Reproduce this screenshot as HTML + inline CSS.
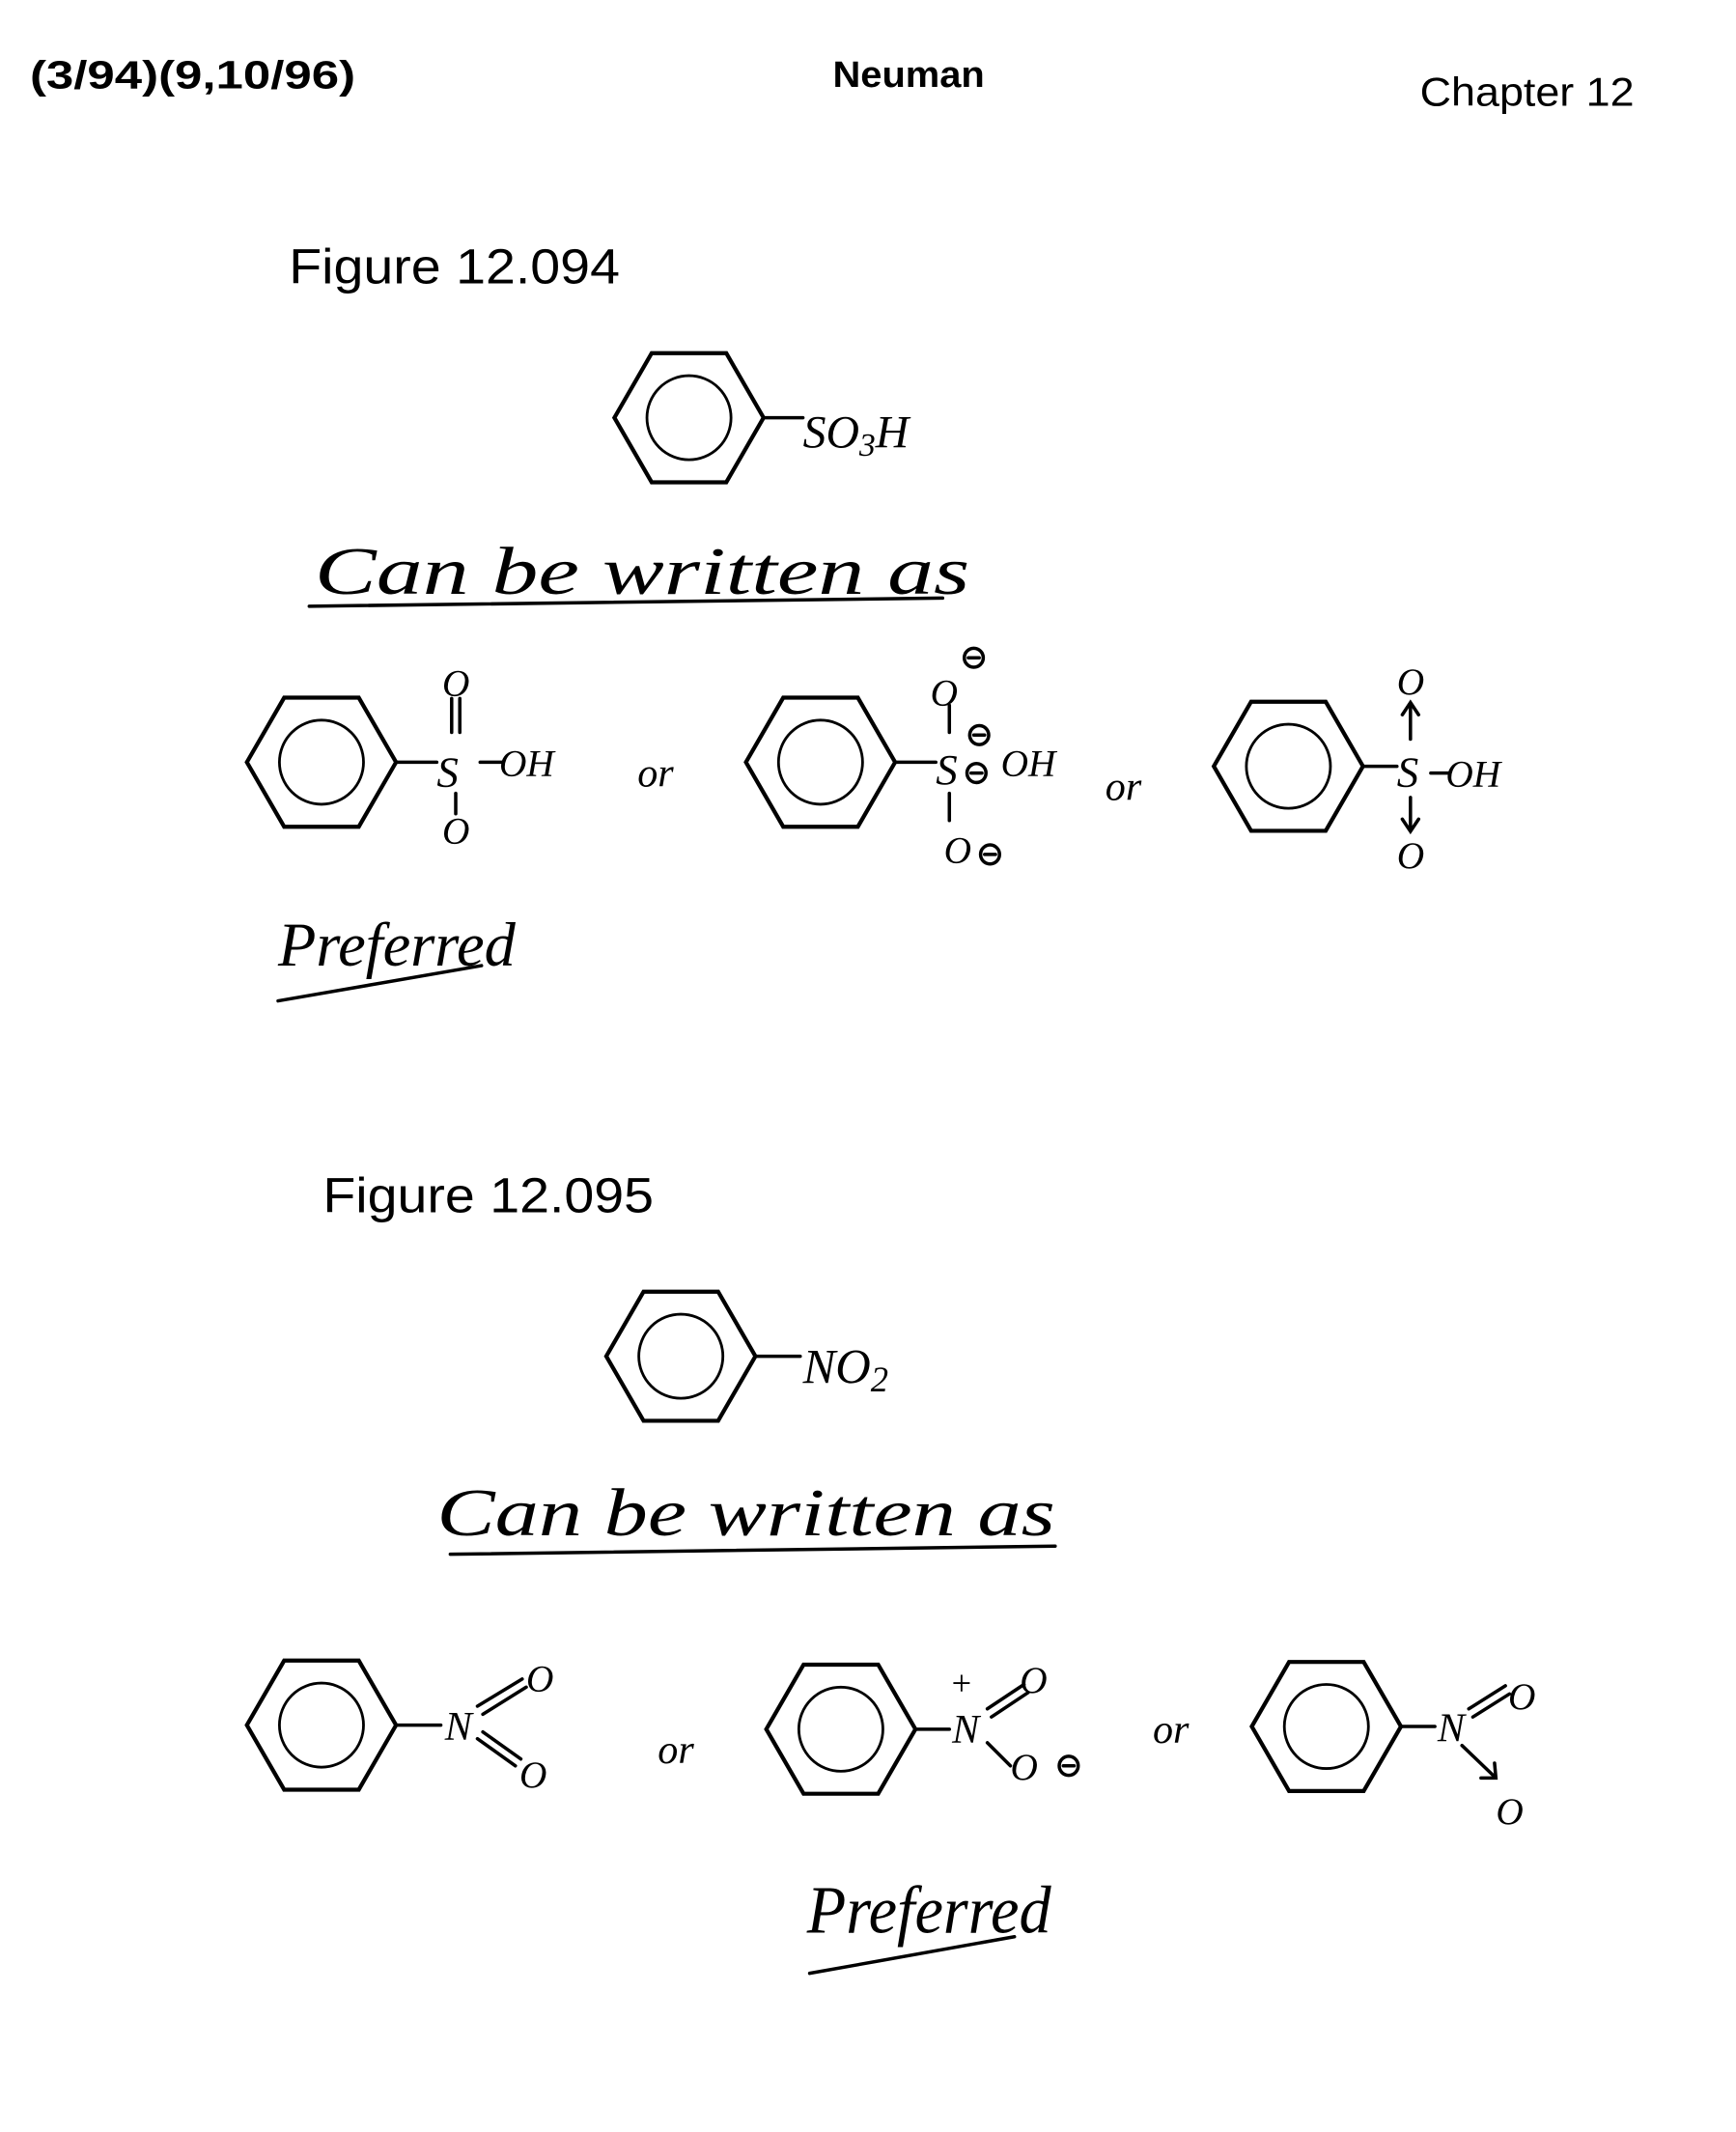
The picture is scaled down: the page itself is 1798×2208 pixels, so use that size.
<!DOCTYPE html>
<html><head><meta charset="utf-8"><style>
html,body{margin:0;padding:0;background:#fff}
svg{display:block}
.h{font-family:"Liberation Sans",sans-serif}
.w{font-family:"Liberation Serif",serif;font-style:italic}
</style></head><body>
<svg width="1798" height="2208" viewBox="0 0 1280 1572" xmlns="http://www.w3.org/2000/svg">
<defs>
<g id="bz"><polygon points="55,0 27.5,47.6 -27.5,47.6 -55,0 -27.5,-47.6 27.5,-47.6" fill="none" stroke="#000" stroke-width="3"/><circle r="31" fill="none" stroke="#000" stroke-width="2"/></g>
<g id="neg"><circle r="7" fill="none" stroke="#000" stroke-width="2.5"/><line x1="-4" y1="0" x2="4" y2="0" stroke="#000" stroke-width="2.5"/></g>
</defs>
<g class="h" fill="#000">
<text x="22" y="65" font-size="29" font-weight="bold" textLength="240" lengthAdjust="spacingAndGlyphs">(3/94)(9,10/96)</text>
<text x="614" y="64" font-size="27" font-weight="bold" textLength="112" lengthAdjust="spacingAndGlyphs">Neuman</text>
<text x="1047" y="78" font-size="30" textLength="158" lengthAdjust="spacingAndGlyphs">Chapter 12</text>
<text x="213" y="209" font-size="36" textLength="244" lengthAdjust="spacingAndGlyphs">Figure 12.094</text>
<text x="238" y="894" font-size="36" textLength="244" lengthAdjust="spacingAndGlyphs">Figure 12.095</text>
</g>
<g stroke="#000" stroke-width="2.5" fill="none" stroke-linecap="round">
<use href="#bz" x="508" y="308"/>
<line x1="563" y1="308" x2="592" y2="308"/>
<use href="#bz" x="237" y="562"/>
<line x1="292" y1="562" x2="322" y2="562"/>
<line x1="333" y1="515" x2="333" y2="540"/><line x1="339" y1="515" x2="339" y2="540"/>
<line x1="336" y1="585" x2="336" y2="600"/>
<line x1="354" y1="562" x2="370" y2="562"/>
<use href="#bz" x="605" y="562"/>
<line x1="660" y1="562" x2="690" y2="562"/>
<line x1="700" y1="520" x2="700" y2="540"/><line x1="700" y1="585" x2="700" y2="605"/>
<use href="#neg" x="718" y="485"/><use href="#neg" x="722" y="542"/><use href="#neg" x="720" y="570"/><use href="#neg" x="730" y="630"/>
<use href="#bz" x="950" y="565"/>
<line x1="1005" y1="565" x2="1030" y2="565"/>
<line x1="1040" y1="520" x2="1040" y2="545"/><polyline points="1034,527 1040,518 1046,527"/>
<line x1="1040" y1="588" x2="1040" y2="612"/><polyline points="1034,604 1040,613 1046,604"/>
<line x1="1055" y1="570" x2="1068" y2="570"/>
<line x1="228" y1="447" x2="695" y2="441"/>
<line x1="205" y1="738" x2="355" y2="712"/>
<use href="#bz" x="502" y="1000"/>
<line x1="557" y1="1000" x2="590" y2="1000"/>
<line x1="332" y1="1146" x2="778" y2="1140"/>
<use href="#bz" x="237" y="1272"/>
<line x1="292" y1="1272" x2="325" y2="1272"/>
<line x1="352" y1="1258" x2="385" y2="1238"/><line x1="356" y1="1264" x2="388" y2="1244"/>
<line x1="352" y1="1282" x2="380" y2="1302"/><line x1="356" y1="1277" x2="384" y2="1297"/>
<use href="#bz" x="620" y="1275"/>
<line x1="675" y1="1275" x2="700" y2="1275"/>
<line x1="728" y1="1260" x2="755" y2="1242"/><line x1="731" y1="1266" x2="758" y2="1248"/>
<line x1="728" y1="1285" x2="745" y2="1302"/>
<use href="#neg" x="788" y="1302"/>
<use href="#bz" x="978" y="1273"/>
<line x1="1033" y1="1273" x2="1058" y2="1273"/>
<line x1="1083" y1="1260" x2="1110" y2="1243"/><line x1="1086" y1="1266" x2="1113" y2="1249"/>
<line x1="1078" y1="1287" x2="1102" y2="1310"/><polyline points="1092,1311 1103,1311 1102,1300"/>
<line x1="597" y1="1455" x2="748" y2="1428"/>
</g>
<g class="w" fill="#000">
<text x="592" y="330" font-size="34">SO<tspan font-size="24" dy="6">3</tspan><tspan dy="-6">H</tspan></text>
<text x="232" y="438" font-size="50" textLength="483" lengthAdjust="spacingAndGlyphs">Can be written as</text>
<text x="326" y="513" font-size="28">O</text>
<text x="322" y="580" font-size="32">S</text>
<text x="326" y="622" font-size="28">O</text>
<text x="368" y="572" font-size="28">OH</text>
<text x="470" y="580" font-size="30">or</text>
<text x="686" y="520" font-size="28">O</text>
<text x="690" y="578" font-size="32">S</text>
<text x="738" y="572" font-size="28">OH</text>
<text x="696" y="636" font-size="28">O</text>
<text x="815" y="590" font-size="30">or</text>
<text x="1030" y="512" font-size="28">O</text>
<text x="1030" y="580" font-size="32">S</text>
<text x="1066" y="580" font-size="28">OH</text>
<text x="1030" y="640" font-size="28">O</text>
<text x="205" y="712" font-size="46" textLength="175" lengthAdjust="spacingAndGlyphs">Preferred</text>
<text x="592" y="1020" font-size="36">NO<tspan font-size="26" dy="6">2</tspan></text>
<text x="322" y="1132" font-size="50" textLength="456" lengthAdjust="spacingAndGlyphs">Can be written as</text>
<text x="328" y="1283" font-size="30">N</text>
<text x="388" y="1247" font-size="28">O</text>
<text x="383" y="1318" font-size="28">O</text>
<text x="485" y="1300" font-size="30">or</text>
<text x="700" y="1250" font-size="26">+</text>
<text x="702" y="1285" font-size="30">N</text>
<text x="752" y="1248" font-size="28">O</text>
<text x="745" y="1312" font-size="28">O</text>
<text x="850" y="1285" font-size="30">or</text>
<text x="1060" y="1284" font-size="30">N</text>
<text x="1112" y="1260" font-size="28">O</text>
<text x="1103" y="1345" font-size="28">O</text>
<text x="595" y="1425" font-size="50" textLength="180" lengthAdjust="spacingAndGlyphs">Preferred</text>
</g>
</svg>
</body></html>
